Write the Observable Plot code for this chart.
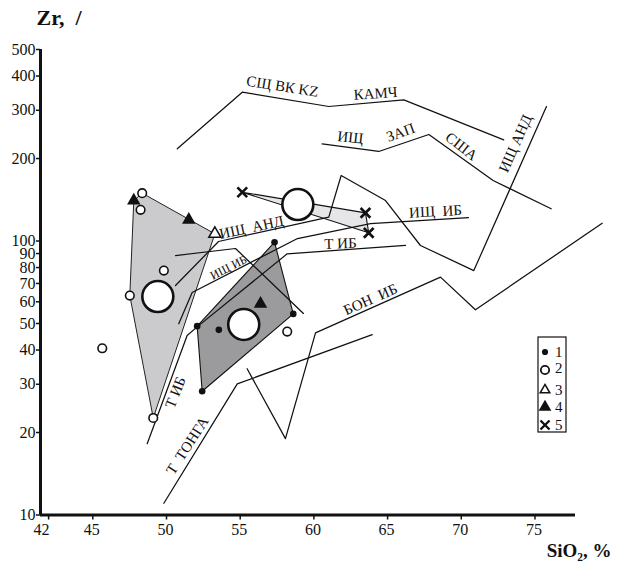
<!DOCTYPE html>
<html><head><meta charset="utf-8">
<script src="https://cdn.jsdelivr.net/npm/d3@7"></script>
<script src="https://cdn.jsdelivr.net/npm/@observablehq/plot@0.6"></script>
<style>
body{margin:0;background:#fff}
#wrap{position:relative;width:620px;height:570px}
#legend{position:absolute;left:0;top:0;pointer-events:none}
</style>
</head><body><div id="wrap"></div>
<script>
// ---- axis ticks ----
const xTicks = [42,45,50,55,60,65,70,75];
const yTicks = [10,20,30,40,50,60,70,80,90,100,200,300,400,500];

// ---- sample groups (SiO2 %, Zr ppm) ----
const g1Si = [57.33, 58.60, 52.08, 52.42, 53.55];
const g1Zr = [99.0, 54.2, 48.9, 28.3, 47.4];
const g2Si = [48.35, 48.24, 47.51, 49.82, 49.10, 58.19, 45.64];
const g2Zr = [149.5, 130.0, 63.2, 78.0, 22.6, 46.7, 40.6];
const g3Si = [53.28];
const g3Zr = [106.2];
const g4Si = [47.78, 51.51, 56.38];
const g4Zr = [140.5, 119.5, 59.0];
const g5Si = [55.14, 63.50, 63.72];
const g5Zr = [150.7, 126.7, 107.1];
// group averages (large circles)
const avgSi = [49.41, 55.24, 58.91];
const avgZr = [62.7, 49.6, 135.9];

// ---- group fields (polygons) ----
const polyLightSi = [48.35, 53.28, 49.10, 47.51, 47.78];
const polyLightZr = [149.5, 106.2, 22.6, 63.2, 140.5];
const polyDarkSi = [57.33, 58.60, 52.42, 52.08];
const polyDarkZr = [99.0, 54.2, 28.3, 48.9];
const polyCrossSi = [55.14, 63.50, 63.72];
const polyCrossZr = [150.7, 126.7, 107.1];

// ---- reference trend lines ----
const kamchSi = [50.73, 55.14, 61.01, 66.10, 72.88];
const kamchZr = [217.0, 349.2, 309.7, 327.6, 234.1];
const zapSi = [60.56, 64.40, 67.80, 72.16, 76.10];
const zapZr = [226.3, 212.2, 244.7, 166.3, 131.1];
const andSi = [50.61, 53.53, 61.01, 61.85, 64.86, 67.23, 70.85, 75.78];
const andZr = [68.8, 99.6, 122.2, 173.4, 140.5, 96.3, 78.0, 309.7];
const ishIbSi = [50.83, 51.74, 58.89, 63.84, 70.49];
const ishIbZr = [49.9, 64.9, 102.1, 115.8, 121.8];
const ishIb2Si = [50.61, 54.68, 59.29];
const ishIb2Zr = [88.5, 93.9, 54.4];
const tIbSi = [48.69, 51.40, 52.12, 58.19, 66.21];
const tIbZr = [18.2, 45.2, 48.8, 89.8, 96.3];
const tongaSi = [49.82, 54.80, 63.96];
const tongaZr = [11.04, 30.1, 45.5];
const bonSi = [55.47, 58.07, 60.11, 68.59, 70.96, 79.56];
const bonZr = [34.2, 19.0, 46.2, 73.8, 56.1, 116.1];

// ---- field labels ----
const labText = ["СЩ ВК KZ","КАМЧ","ИЩ","ЗАП","США","ИЩ АНД","ИЩ\u00A0\u00A0ИБ","Т ИБ","ИЩ\u00A0\u00A0АНД","БОН\u00A0\u00A0ИБ","Т ИБ","Т\u00A0\u00A0ТОНГА"];
const labSi = [57.87, 64.18, 62.48, 65.88, 70.01, 73.68, 68.25, 61.80, 55.77, 63.84, 50.61, 51.42];
const labZr = [366.4, 345.4, 238.6, 248.9, 221.3, 226.9, 128.2, 97.9, 112.0, 61.2, 28.0, 17.9];
const labRot = [9, -4, 6, -20, 38, -66, -3, -2, -12, -24, -68, -57];
const smallLabText = ["ИЩ ИБ"];
const smallLabSi = [54.21];
const smallLabZr = [80.0];
const smallLabRot = [-27];

const legendLabels = ["1","2","3","4","5"];

// ---- build tables ----
const pts = (xs, ys, name) => xs.map((x, i) => ({x, y: ys[i], name}));
const closed = (xs, ys) => { const p = pts(xs, ys, ""); return p.concat([p[0]]); };
const lines = [].concat(
  pts(kamchSi, kamchZr, "kamch"), pts(zapSi, zapZr, "zap"), pts(andSi, andZr, "and"),
  pts(ishIbSi, ishIbZr, "ishib"), pts(ishIb2Si, ishIb2Zr, "ishib2"), pts(tIbSi, tIbZr, "tib"),
  pts(tongaSi, tongaZr, "tonga"), pts(bonSi, bonZr, "bon"));
const labels = labText.map((t, i) => ({t, x: labSi[i], y: labZr[i], r: labRot[i]}));
const smallLabels = smallLabText.map((t, i) => ({t, x: smallLabSi[i], y: smallLabZr[i], r: smallLabRot[i]}));

const xDom = [41.45, 77.75];
const yDom = [10, 500];
const font = "'Liberation Serif', 'Times New Roman', serif";

const chart = Plot.plot({
  width: 620, height: 570,
  marginLeft: 40, marginRight: 45, marginTop: 49, marginBottom: 55.5,
  x: {domain: xDom},
  y: {type: "log", domain: yDom},
  style: {fontFamily: font, background: "#fff", color: "#111"},
  marks: [
    Plot.line(closed(polyLightSi, polyLightZr), {x: "x", y: "y", fill: "#cbcbce", stroke: "#222", strokeWidth: 1}),
    Plot.line(closed(polyDarkSi, polyDarkZr), {x: "x", y: "y", fill: "#9b9b9d", stroke: "#111", strokeWidth: 1.1}),
    Plot.line(closed(polyCrossSi, polyCrossZr), {x: "x", y: "y", fill: "#e6e6e8", stroke: "#111", strokeWidth: 1.1}),
    Plot.line(lines, {x: "x", y: "y", z: "name", stroke: "#111", strokeWidth: 1.25}),
    Plot.text(labels, {x: "x", y: "y", text: "t", rotate: "r", fontSize: 15, fill: "#111"}),
    Plot.text(smallLabels, {x: "x", y: "y", text: "t", rotate: "r", fontSize: 12, fill: "#111"}),
    // axis ticks (marks only) + labels as text
    Plot.axisY({ticks: yTicks, tickFormat: () => "", tickSize: 4, label: null, strokeWidth: 1.5}),
    Plot.text(yTicks, {x: xDom[0], y: d => d, text: d => String(d), textAnchor: "end", dx: -5, fontSize: 16, fill: "#111"}),
    Plot.axisX({ticks: xTicks, tickFormat: () => "", tickSize: 5, label: null, strokeWidth: 1.5}),
    Plot.text(xTicks, {x: d => d, y: yDom[0], text: d => String(d), dx: -1, dy: 15, fontSize: 16, fill: "#111",
      filter: d => d !== 42}),
    Plot.text(xTicks, {x: d => d, y: yDom[0], text: d => String(d), dx: -7, dy: 15, fontSize: 16, fill: "#111",
      filter: d => d === 42}),
    Plot.ruleX([xDom[0]], {y1: yDom[0], y2: yDom[1], stroke: "#111", strokeWidth: 3}),
    Plot.ruleY([yDom[0]], {x1: xDom[0], x2: xDom[1], stroke: "#111", strokeWidth: 3}),
    Plot.dot(pts(avgSi, avgZr), {x: "x", y: "y", r: 15.5, fill: "#fff", stroke: "#111", strokeWidth: 2.6}),
    Plot.dot(pts(g2Si, g2Zr), {x: "x", y: "y", r: 4.3, fill: "#fff", stroke: "#111", strokeWidth: 1.6}),
    Plot.dot(pts(g1Si, g1Zr), {x: "x", y: "y", r: 3.3, fill: "#111"}),
    Plot.dot(pts(g3Si, g3Zr), {x: "x", y: "y", symbol: "triangle", r: 4.5, fill: "#fff", stroke: "#111", strokeWidth: 1.5}),
    Plot.dot(pts(g4Si, g4Zr), {x: "x", y: "y", symbol: "triangle", r: 5, fill: "#111"}),
    Plot.dot(pts(g5Si, g5Zr), {x: "x", y: "y", symbol: "times", r: 4.5, stroke: "#111", strokeWidth: 2.6}),
    Plot.text(["Zr,\u00A0\u00A0/"], {frameAnchor: "top-left", dx: -4, dy: -25, textAnchor: "start", lineAnchor: "bottom", fontSize: 22, fontWeight: "bold", fill: "#111"}),
    Plot.text(["SiO\u2082, %"], {frameAnchor: "bottom-right", dx: 36, dy: 42, textAnchor: "end", lineAnchor: "bottom", fontSize: 19, fontWeight: "bold", fill: "#111"})
  ]
});
const wrap = document.getElementById("wrap");
wrap.appendChild(chart);

// ---- legend overlay ----
const lg = d3.select(wrap).append("svg").attr("id", "legend").attr("width", 620).attr("height", 570);
lg.append("rect").attr("x", 538).attr("y", 337).attr("width", 28).attr("height", 95)
  .attr("fill", "#fff").attr("stroke", "#111").attr("stroke-width", 1.2);
const symDefs = [
  {type: d3.symbolCircle, size: 30, fill: "#111", stroke: "none", sw: 0},
  {type: d3.symbolCircle, size: 55, fill: "#fff", stroke: "#111", sw: 1.8},
  {type: d3.symbolTriangle, size: 40, fill: "#fff", stroke: "#111", sw: 1.5},
  {type: d3.symbolTriangle, size: 70, fill: "#111", stroke: "none", sw: 0},
  {type: d3.symbolTimes, size: 55, fill: "none", stroke: "#111", sw: 2.4}
];
const legY = [352, 370, 390, 407, 425];
legendLabels.forEach((lab, i) => {
  const s = symDefs[i];
  lg.append("path").attr("transform", `translate(545,${legY[i]})`)
    .attr("d", d3.symbol(s.type, s.size)())
    .attr("fill", s.fill).attr("stroke", s.stroke).attr("stroke-width", s.sw);
  lg.append("text").attr("x", 555).attr("y", legY[i] + (i === 1 ? -2 : 0)).attr("dy", "0.35em")
    .attr("font-family", font).attr("font-size", 15).attr("fill", "#111").text(lab);
});
</script>
</body></html>
